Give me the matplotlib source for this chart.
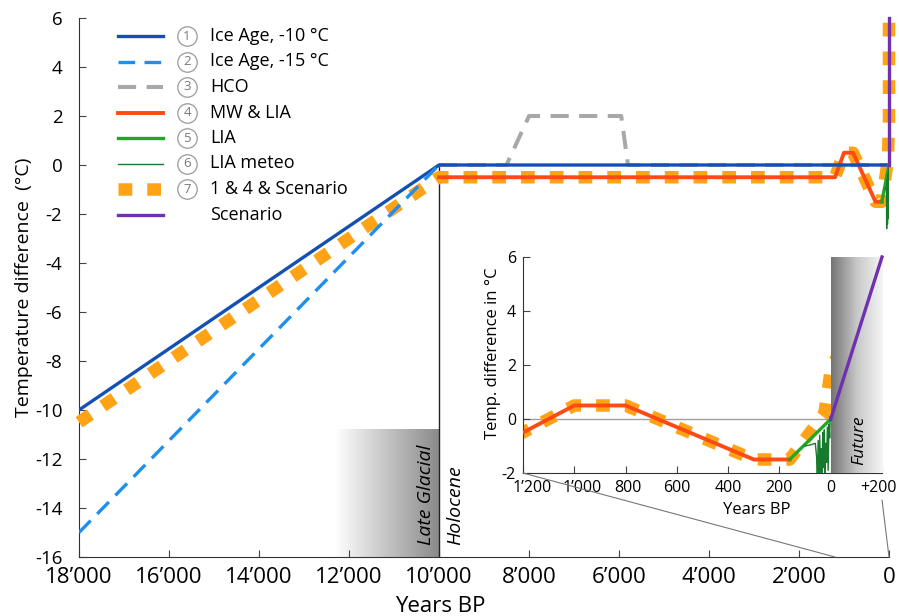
import numpy as np
import matplotlib.pyplot as plt
from matplotlib.colors import LinearSegmentedColormap
from matplotlib.patches import ConnectionPatch
from matplotlib.lines import Line2D
from matplotlib.transforms import ScaledTranslation

plt.rcParams['font.family'] = ['Open Sans', 'DejaVu Sans']

# years BP (negative = future), temperature difference in degC
ice10_years = [18000, 10000, 0]
ice10_temp = [-10, 0, 0]
ice15_years = [18000, 10000]
ice15_temp = [-15, 0]
hco_years = [10000, 8500, 8000, 5950, 5800, 0]
hco_temp = [0, 0, 2, 2, 0, 0]
mwlia_years = [10000, 1200, 1000, 800, 300, 160]
mwlia_temp = [-0.5, -0.5, 0.5, 0.5, -1.5, -1.5]
lia_years = [160, 0]
lia_temp = [-1.5, 0]
meteo_years = [100, 75, 60, 55, 52, 49, 46, 43, 40, 37, 34, 31, 28, 25,
               22, 19, 16, 13, 10, 7, 4, 2, 0]
meteo_temp = [-1.0, -0.95, -0.9, -1.4, -2.6, -0.8, -2.3, -0.6, -2.0, -1.1,
              -2.4, -0.5, -1.8, -0.4, -2.2, -0.9, -1.6, -0.3, -1.9, -0.2,
              -0.7, 0.1, 0.0]
combo_years = [18000, 10000, 1200, 1000, 800, 300, 160, 25, 0, -200]
combo_temp = [-10.5, -0.5, -0.5, 0.5, 0.5, -1.5, -1.5, 0.2, 1.8, 6]
scen_years = [0, -200]
scen_temp = [0, 6]

legend_labels = ['Ice Age, -10 °C', 'Ice Age, -15 °C', 'HCO', 'MW & LIA',
                 'LIA', 'LIA meteo', '1 & 4 & Scenario', 'Scenario']
legend_nums = ['1', '2', '3', '4', '5', '6', '7', '']

main_xticks = list(range(18000, -1, -2000))
main_yticks = list(range(-16, 7, 2))
inset_xticks = [1200, 1000, 800, 600, 400, 200, 0, -200]
inset_yticks = [-2, 0, 2, 4, 6]

st_ice10 = dict(color='#1450b4', lw=2.4)
st_ice15 = dict(color='#1e8fef', lw=2.4, dashes=(5, 2.8))
st_hco = dict(color='#a8a8a8', lw=2.9, dashes=(4.5, 2.6))
st_mw = dict(color='#ff4a14', lw=2.8)
st_lia = dict(color='#23a623', lw=2.4)
st_meteo = dict(color='#177a2c', lw=1.0)
st_combo = dict(color='#ffa316', lw=9, dashes=(1.1, 1.2), solid_capstyle='butt',
                dash_capstyle='butt')
st_scen = dict(color='#7030b0', lw=2.4)
styles = [st_ice10, st_ice15, st_hco, st_mw, st_lia, st_meteo, st_combo, st_scen]

W, H = 899, 616
fig = plt.figure(figsize=(W / 100, H / 100), dpi=100)


def px(x0, y0, w, h):
    return [x0 / W, 1 - (y0 + h) / H, w / W, h / H]


def fmt(v):
    if v < 0:
        return '+' + str(-v)
    return f'{v:,}'.replace(',', '\u2019')


ax = fig.add_axes(px(79, 18, 810, 539))
ax.set_xlim(18000, 0)
ax.set_ylim(-16, 6)

grey_cm = LinearSegmentedColormap.from_list('g', ['#ffffff', '#8a8a8a'])
grad = np.linspace(0, 1, 256).reshape(1, -1)
ax.imshow(grad, cmap=grey_cm, extent=[12300, 10000, -16, -10.8],
          aspect='auto', zorder=1)
ax.vlines(10000, -16, 0, color='#222222', lw=1.0, zorder=2)

ax.plot(hco_years, hco_temp, zorder=3, **st_hco)
main_combo_x = np.clip(combo_years, 0, None)
ax.plot(main_combo_x, combo_temp, zorder=4, clip_on=False, **st_combo)
ax.plot(mwlia_years, mwlia_temp, zorder=5, **st_mw)
ax.plot(ice10_years, ice10_temp, zorder=6, **st_ice10)
ax.plot(ice15_years, ice15_temp, zorder=6, **st_ice15)
ax.plot(lia_years, lia_temp, zorder=7, **st_lia)
ax.plot(meteo_years, meteo_temp, zorder=8, **st_meteo)
ax.plot(np.clip(scen_years, 0, None), scen_temp, zorder=9, clip_on=False, **st_scen)

ax.text(10290, -15.5, 'Late Glacial', rotation=90, style='italic', fontsize=14,
        ha='center', va='bottom', zorder=3)
ax.text(9644, -15.5, 'Holocene', rotation=90, style='italic', fontsize=14,
        ha='center', va='bottom', zorder=3)

ax.set_xticks(main_xticks)
ax.set_xticklabels([fmt(v) for v in main_xticks], fontsize=16)
ax.set_yticks(main_yticks)
ax.set_yticklabels([str(v) for v in main_yticks], fontsize=13.5)
ax.tick_params(direction='in', length=5, color='#444444')
ax.tick_params(axis='x', pad=7)
ax.tick_params(axis='y', pad=12)
for s in ['top', 'right']:
    ax.spines[s].set_visible(False)
for s in ['left', 'bottom']:
    ax.spines[s].set_color('#333333')
ax.set_xlabel('Years BP', fontsize=16)
ax.xaxis.set_label_coords(0.446, -0.072)
ax.set_ylabel('Temperature difference  (°C)', fontsize=14)
ax.yaxis.set_label_coords(-0.057, 0.5)

# legend drawn by hand
for i, (lab, num, st) in enumerate(zip(legend_labels, legend_nums, styles)):
    yy = 1 - (36 + i * 25.5) / H
    fig.add_artist(Line2D([118 / W, 163 / W], [yy, yy], transform=fig.transFigure, **st))
    if num:
        fig.add_artist(Line2D([187 / W], [yy], transform=fig.transFigure, marker='o',
                              ms=14, mfc='white', mec='#999999', mew=0.9, ls='none'))
        fig.text(187 / W, yy, num, fontsize=9.5, color='#777777', ha='center', va='center')
    fig.text(210 / W, yy, lab, fontsize=13, ha='left', va='center')

# inset
ax2 = fig.add_axes(px(523, 257, 359, 216))
ax2.set_facecolor('none')
ax2.set_xlim(1200, -200)
ax2.set_ylim(-2, 6)
fut_cm = LinearSegmentedColormap.from_list('f', ['#747474', '#c8c8c8', '#f6f6f6'])
ax2.imshow(grad, cmap=fut_cm, extent=[0, -200, -2, 6], aspect='auto', zorder=5)
ax2.hlines(0, 1200, 0, color='#a0a0a0', lw=1.0, zorder=1)
ax2.plot(combo_years, combo_temp, zorder=2, **st_combo)
ax2.plot(mwlia_years, mwlia_temp, zorder=3, **st_mw)
ax2.plot(lia_years, lia_temp, zorder=4, **st_lia)
ax2.plot(meteo_years, meteo_temp, zorder=4.5, **st_meteo)
ax2.plot(scen_years, scen_temp, zorder=6, clip_on=False, **st_scen)
ax2.text(-110, -0.8, 'Future', rotation=90, style='italic', fontsize=12.5,
         ha='center', va='center', zorder=7)
ax2.set_xticks(inset_xticks)
ax2.set_xticklabels([fmt(v) for v in inset_xticks], fontsize=11.5)
ax2.set_yticks(inset_yticks)
ax2.set_yticklabels([str(v) for v in inset_yticks], fontsize=11.5)
ax2.tick_params(direction='in', length=5, color='#444444', pad=5)
xl = ax2.get_xticklabels()
for lab, dx in [(xl[0], 9), (xl[1], 8), (xl[2], 2), (xl[-1], -4)]:
    lab.set_transform(lab.get_transform() + ScaledTranslation(dx / 100, 0, fig.dpi_scale_trans))
for s in ['top', 'right']:
    ax2.spines[s].set_visible(False)
for s in ['left', 'bottom']:
    ax2.spines[s].set_color('#333333')
ax2.set_xlabel('Years BP', fontsize=12)
ax2.xaxis.set_label_coords(0.652, -0.134)
ax2.set_ylabel('Temp. difference in °C', fontsize=12)
ax2.yaxis.set_label_coords(-0.061, 0.556)

for xa, ya, xb in [(1200, -2, 1200), (-200, -3, 0)]:
    con = ConnectionPatch(xyA=(xa, ya), coordsA=ax2.transData,
                          xyB=(xb, -16), coordsB=ax.transData,
                          color='#777777', lw=0.8)
    fig.add_artist(con)

fig.savefig('out.png', dpi=100)
